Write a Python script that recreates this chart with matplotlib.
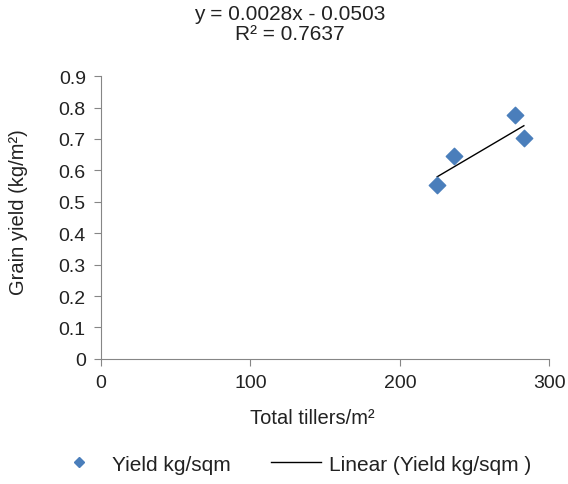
import numpy as np
import matplotlib
matplotlib.use("Agg")
import matplotlib.pyplot as plt
from matplotlib.lines import Line2D

plt.rcParams["font.family"] = ["Liberation Sans", "DejaVu Sans"]

tillers = [225, 236, 277, 283]
yield_kg = [0.553, 0.646, 0.776, 0.703]
slope, intercept = 0.0028, -0.0503
r2 = 0.7637

fig = plt.figure(figsize=(5.68, 4.85), dpi=100)
ax = fig.add_axes([0.178, 0.258, 0.789, 0.583])

ax.scatter(tillers, yield_kg, marker="D", s=70, color="#4a7ebb", zorder=3)
xt = np.array([min(tillers), max(tillers)])
ax.plot(xt, slope * xt + intercept, color="black", linewidth=1)

ax.set_xlim(0, 300)
ax.set_ylim(0, 0.9)
ax.set_xticks([0, 100, 200, 300])
ax.set_yticks(np.arange(0, 0.91, 0.1))
ax.set_yticklabels(["0"] + [f"{v:.1f}" for v in np.arange(0.1, 0.91, 0.1)])
for s in ("top", "right"):
    ax.spines[s].set_visible(False)
for s in ("left", "bottom"):
    ax.spines[s].set_color("#868686")
ax.tick_params(axis="both", colors="#868686", labelcolor="#222222", labelsize=14,
               length=5, pad=6)

ax.set_xlabel("Total tillers/m²", fontsize=14.5, color="#222222")
ax.xaxis.set_label_coords(0.471, -0.175)
ax.set_ylabel("Grain yield (kg/m²)", fontsize=14.5, color="#222222")
ax.yaxis.set_label_coords(-0.163, 0.523)

fig.text(0.51, 0.99, f"y = {slope}x - {abs(intercept):.4f}\nR² = {r2}",
         ha="center", va="top", fontsize=15, linespacing=1.05, color="#222222")

handles = [Line2D([], [], marker="D", color="#4a7ebb", linestyle="none", markersize=5),
           Line2D([], [], color="black", linewidth=1)]
fig.legend(handles, ["Yield kg/sqm", "Linear (Yield kg/sqm )"], loc="center left",
           bbox_to_anchor=(0.095, 0.041), ncol=2, frameon=False, fontsize=15,
           handlelength=2.4, handletextpad=0.4, columnspacing=1.9,
           borderpad=0, borderaxespad=0, labelcolor="#222222")

fig.savefig("out.png", dpi=100, facecolor="white")
